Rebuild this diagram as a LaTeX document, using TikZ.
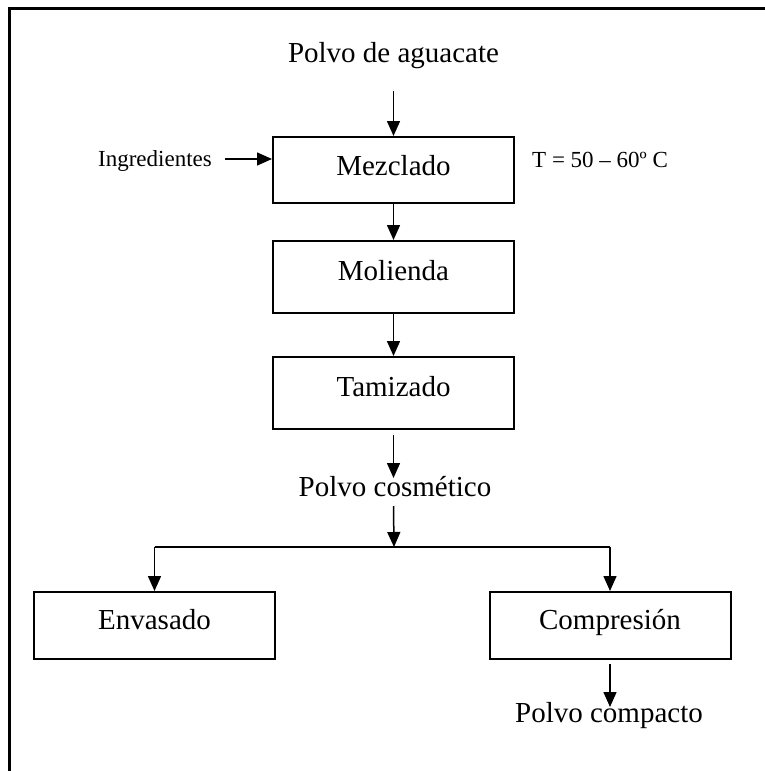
\documentclass[tikz,border=0pt]{standalone}
\usepackage{fontspec}
\setmainfont{Liberation Serif}
\usetikzlibrary{arrows.meta}
\begin{document}
\begin{tikzpicture}[x=1pt,y=-1pt,
  big/.style={font=\fontsize{29}{34}\selectfont},
  small/.style={font=\fontsize{23}{27}\selectfont},
  txt/.style={inner sep=0pt},
  stepbox/.style={draw,line width=2pt,minimum width=241pt,inner sep=0pt,
    text height=14pt,text depth=8pt,big},
  arr/.style={line width=1.5pt,-{Triangle[length=15pt,width=13pt]}},
  ln/.style={line width=1.5pt}]
\useasboundingbox (0,0) rectangle (765,771);
% frame
\draw[line width=2.5pt] (9.5,775) -- (9.5,8.5) -- (770,8.5);
% texts
\node[txt,big,anchor=base] (pa) at (393.5,62) {Polvo de aguacate};
\node[stepbox,minimum height=66pt,text height=18pt] (mez) at (393.5,170) {Mezclado};
\node[stepbox,minimum height=72pt] (mol) at (393.5,277) {Molienda};
\node[stepbox,minimum height=72pt] (tam) at (393.5,393) {Tamizado};
\node[txt,small,anchor=east,text depth=0pt] (ing) at (212,159) {Ingredientes};
\node[txt,small,anchor=base west] (temp) at (532,167) {T = 50 – 60º C};
\node[txt,big,anchor=base] (pc) at (395,496) {Polvo cosmético};
\node[stepbox,minimum height=67pt,text height=16pt] (env) at (154.5,625.5) {Envasado};
\node[stepbox,minimum height=67pt,text height=16pt] (comp) at (610,625.5) {Compresión};
\node[txt,big,anchor=base] (pcomp) at (609,722) {Polvo compacto};
\coordinate (j) at (394,547);
% connectors
\draw[arr] ([yshift=-29pt]pa.base -| mez.north) -- (mez.north);
\draw[arr] ([xshift=13pt]ing.east) -- (ing.east -| mez.west);
\draw[arr] (mez) -- (mol);
\draw[arr] (mol) -- (tam);
\draw[arr] ([yshift=-5pt]tam.south) -- ([yshift=18pt]tam.south |- pc.base);
\draw[arr] ([yshift=-10pt]tam.south |- pc.base) -- (j);
\draw[ln] (env.north |- j) -- (comp.north |- j);
\draw[arr] (env.north |- j) -- (env.north);
\draw[arr] (comp.north |- j) -- (comp.north);
\draw[arr] ([yshift=-4pt]comp.south) -- ([yshift=15pt]comp.south |- pcomp.base);
\end{tikzpicture}
\end{document}
